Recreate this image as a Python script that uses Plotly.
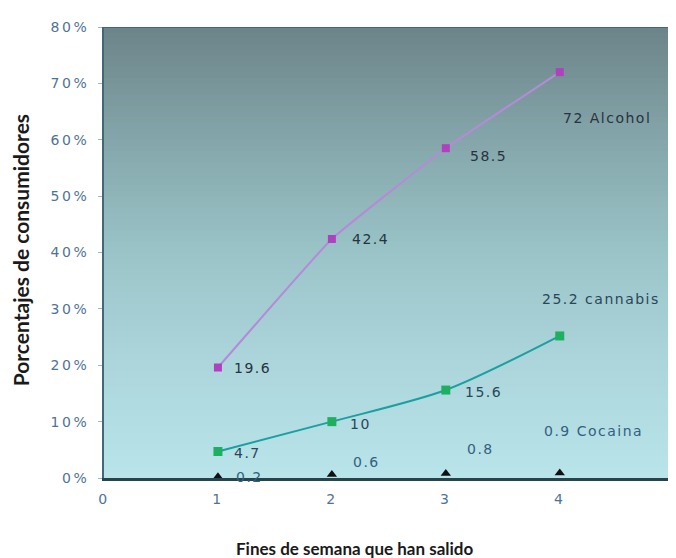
import plotly.graph_objects as go

weekends = [1, 2, 3, 4]
alcohol = [19.6, 42.4, 58.5, 72]
cannabis = [4.7, 10, 15.6, 25.2]
cocaine = [0.2, 0.6, 0.8, 0.9]

alcohol_labels = ["19.6", "42.4", "58.5", "72 Alcohol"]
cannabis_labels = ["4.7", "10", "15.6", "25.2 cannabis"]
cocaine_labels = ["0.2", "0.6", "0.8", "0.9 Cocaina"]

x_ticks = [0, 1, 2, 3, 4]
x_tick_text = ["0", "1", "2", "3", "4"]
y_ticks = [0, 10, 20, 30, 40, 50, 60, 70, 80]
y_tick_text = ["0%", "10%", "20%", "30%", "40%", "50%", "60%", "70%", "80%"]

SP_LAB = '<span style="letter-spacing:1.5px">%s</span>'
SP_TICK = '<span style="letter-spacing:2.5px">%s</span>'

fig = go.Figure()

# gradient background (stacked rects, no seams)
stops = [(0, (184, 228, 234)), (20, (172, 214, 220)), (40, (154, 196, 200)),
         (60, (132, 166, 170)), (80, (108, 132, 137))]


def col_at(v):
    for (a, ca), (b, cb) in zip(stops[:-1], stops[1:]):
        if a <= v <= b:
            t = (v - a) / (b - a)
            c = [round(ca[i] + (cb[i] - ca[i]) * t) for i in range(3)]
            return "rgb(%d,%d,%d)" % tuple(c)
    return "rgb(108,132,137)"


shapes = []
n = 80
for i in range(n, 0, -1):
    y1 = 80 * i / n
    shapes.append(dict(type="rect", xref="paper", yref="y", x0=0, x1=1,
                       y0=0, y1=y1, fillcolor=col_at(y1 - 0.5),
                       line=dict(width=0), layer="below"))
# top border
shapes.append(dict(type="line", xref="paper", yref="y", x0=0, x1=1, y0=80, y1=80,
                   line=dict(color="#3f6a74", width=2), layer="above"))

fig.add_trace(go.Scatter(
    x=weekends, y=alcohol, mode="lines+markers",
    line=dict(color="#b58ad8", width=2, shape="spline", smoothing=0.3),
    marker=dict(symbol="square", size=8, color="#b040c0"),
    cliponaxis=False, showlegend=False))
fig.add_trace(go.Scatter(
    x=weekends, y=cannabis, mode="lines+markers",
    line=dict(color="#1aa0a0", width=2, shape="spline", smoothing=0.8),
    marker=dict(symbol="square", size=9, color="#1eb060"),
    cliponaxis=False, showlegend=False))
fig.add_trace(go.Scatter(
    x=weekends, y=cocaine, mode="markers",
    marker=dict(symbol="triangle-up", size=9, color="#111111"),
    cliponaxis=False, showlegend=False))

annotations = []
alc_off = [(14, 0), (18, 0), (22, -8), (1, -46)]
can_off = [(14, -1), (16, -2), (17, -2), (-20, 37)]
coc_off = [(16, 0), (19, 13), (19, 24), (-18, 42)]
series_colors = ["#27333d", "#2b4658", "#35607e"]
for vals, labs, offs, colr in [(alcohol, alcohol_labels, alc_off, series_colors[0]),
                               (cannabis, cannabis_labels, can_off, series_colors[1]),
                               (cocaine, cocaine_labels, coc_off, series_colors[2])]:
    for xv, yv, t, (dx, dy) in zip(weekends, vals, labs, offs):
        annotations.append(dict(x=xv, y=yv, text=SP_LAB % t, showarrow=False,
                                xanchor="left", yanchor="middle",
                                xshift=dx, yshift=dy,
                                font=dict(family="DejaVu Sans", size=14, color=colr)))

annotations.append(dict(text="<b>Fines de semana que han salido</b>", xref="paper",
                        yref="paper", x=0.445, y=0, yshift=-70, showarrow=False,
                        xanchor="center", yanchor="middle",
                        font=dict(family="Lato", size=17, color="#1a1a1a")))
annotations.append(dict(text="<b>Porcentajes de consumidores</b>", xref="paper",
                        yref="paper", x=0, xshift=-84, y=0.505, showarrow=False,
                        textangle=-90, xanchor="center", yanchor="middle",
                        font=dict(family="Lato", size=21, color="#1a1a1a")))

tick_font = dict(family="DejaVu Sans", size=14, color="#4f7396")
fig.update_layout(
    width=668, height=550,
    margin=dict(l=96, r=8, t=19, b=80),
    paper_bgcolor="white", plot_bgcolor="white",
    shapes=shapes, annotations=annotations,
    xaxis=dict(range=[0, 4.95], tickvals=x_ticks,
               ticktext=[SP_TICK % t for t in x_tick_text],
               showgrid=False, zeroline=False,
               showline=True, linecolor="#24454c", linewidth=3, automargin=False,
               ticks="", tickfont=tick_font, ticklabelstandoff=6),
    yaxis=dict(range=[0, 80], tickvals=y_ticks,
               ticktext=[SP_TICK % t for t in y_tick_text],
               showgrid=False, zeroline=False, automargin=False,
               showline=True, linecolor="#3f6a74", linewidth=2,
               ticks="outside", ticklen=4, tickcolor="#9ab8c8",
               tickfont=tick_font, ticklabelstandoff=6),
)

fig.write_html("out.html")
